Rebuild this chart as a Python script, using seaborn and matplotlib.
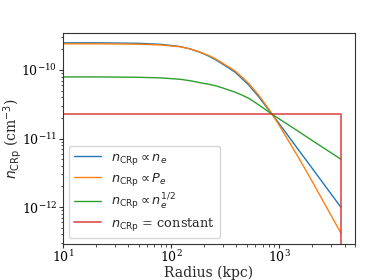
import numpy as np
import pandas as pd
import matplotlib
matplotlib.use("Agg")
import matplotlib.pyplot as plt
import seaborn as sns

# radius grid (kpc) and profiles
radius = [10, 22, 50, 80, 121, 150, 186, 220, 255, 300, 392, 450, 520, 643, 796, 860,
          1000, 1500, 2000, 3000, 3700]
n_prop_ne = [2.48e-10, 2.48e-10, 2.44e-10, 2.36e-10, 2.19e-10, 2.02e-10, 1.80e-10, 1.60e-10,
             1.42e-10, 1.21e-10, 9.2e-11, 7.5e-11, 6.03e-11, 4.07e-11, 2.61e-11, 2.24e-11,
             1.63e-11, 6.85e-12, 3.72e-12, 1.56e-12, 1.0e-12]
n_prop_pe = [2.40e-10, 2.40e-10, 2.37e-10, 2.31e-10, 2.17e-10, 2.02e-10, 1.82e-10, 1.63e-10,
             1.46e-10, 1.25e-10, 9.6e-11, 7.9e-11, 6.35e-11, 4.3e-11, 2.7e-11, 2.24e-11,
             1.54e-11, 5.3e-12, 2.4e-12, 7.6e-13, 4.2e-13]
n_prop_sqrt = [7.9e-11, 7.9e-11, 7.8e-11, 7.65e-11, 7.3e-11, 6.95e-11, 6.5e-11, 6.2e-11,
               5.9e-11, 5.45e-11, 4.72e-11, 4.3e-11, 3.86e-11, 3.1e-11, 2.45e-11, 2.24e-11,
               1.92e-11, 1.27e-11, 9.4e-12, 6.2e-12, 5.0e-12]
const_r = [10, 3700, 3700]
const_n = [2.24e-11, 2.24e-11, 1e-14]

labels = [r"$n_{\rm CRp} \propto n_e$", r"$n_{\rm CRp} \propto P_e$",
          r"$n_{\rm CRp} \propto n_e^{1/2}$", r"$n_{\rm CRp}$ = constant"]
colors = sns.color_palette("tab10", 4)

sns.set_style("ticks")
plt.rcParams["font.family"] = ["DejaVu Serif"]
plt.rcParams["mathtext.fontset"] = "dejavusans"
plt.rcParams["axes.edgecolor"] = "#333333"
plt.rcParams["xtick.color"] = "#333333"
plt.rcParams["ytick.color"] = "#333333"
plt.rcParams["xtick.labelcolor"] = "black"
plt.rcParams["ytick.labelcolor"] = "black"

fig = plt.figure(figsize=(3.74, 2.80), dpi=100)
ax = fig.add_axes([63 / 374, 36 / 280, 292 / 374, 211 / 280])

series = [(radius, n_prop_ne), (radius, n_prop_pe), (radius, n_prop_sqrt), (const_r, const_n)]
for (r, n), lab, c in zip(series, labels, colors):
    df = pd.DataFrame({"r": r, "n": n})
    sns.lineplot(data=df, x="r", y="n", ax=ax, color=c, label=lab, sort=False,
                 estimator=None, lw=1.0)
ax.lines[3].set_alpha(0.7)
ax.lines[3].set_linewidth(1.4)

ax.set_xscale("log")
ax.set_yscale("log")
ax.set_xlim(10, 5000)
ax.set_ylim(2.9e-13, 3.45e-10)
ax.set_xlabel("Radius (kpc)", fontsize=10, labelpad=0)
ax.set_ylabel(r"$n_{\rm CRp}$ (cm$^{-3}$)", fontsize=10, labelpad=-1.5)
ax.tick_params(axis="both", which="major", labelsize=9, length=3, width=0.8, pad=1)
ax.tick_params(axis="both", which="minor", length=1.8, width=0.6)
for s in ax.spines.values():
    s.set_linewidth(0.8)
ax.legend(loc="lower left", fontsize=9.3, handlelength=2.1, borderaxespad=0.45,
          labelspacing=0.3, borderpad=0.4)

plt.savefig("out.png", dpi=100)
plt.close()
